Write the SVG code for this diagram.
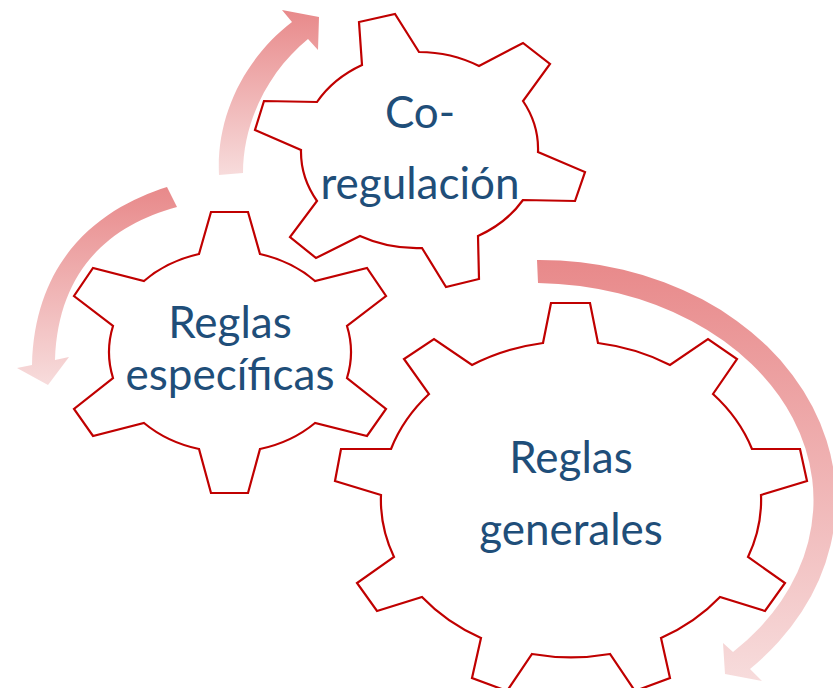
<svg xmlns="http://www.w3.org/2000/svg" width="833" height="688" viewBox="0 0 833 688">
<defs>
<linearGradient id="fade" x1="0" y1="0" x2="0" y2="1">
<stop offset="0" stop-color="#E8898A"/>
<stop offset="1" stop-color="#F7DCDC"/>
</linearGradient>
<style>
.gear{fill:#FFFFFF;stroke:#C00000;stroke-width:2.2;stroke-linejoin:miter}
.lbl{font-family:Lato,"Liberation Sans",sans-serif;font-size:44px;fill:#1F4E79;text-anchor:middle}
.arrow{fill:url(#fade);stroke:none}
</style>
</defs>
<rect width="833" height="688" fill="#FFFFFF"/>
<g id="connectors">
<path id="arrow-up" class="arrow" d="M219,175 C216,115 245,58 292,22 L282,10 L319,17 L318,50 L308,39 C270,70 243,120 243,173 Z"/>
<path id="arrow-left" class="arrow" d="M167,187 C110,205 35,250 32,365 L17,368 L48,385 L69,357 L55,360 C58,270 110,225 177,207 Z"/>
<path id="arrow-right" class="arrow" d="M537,260 A296 240 0 0 1 750,669 L762,681 L725,674 L723,643 L733,652 A281 217 0 0 0 538,283 Z"/>
</g>
<g id="gear-coregulacion">
<path class="gear" d="M362,65 L359,22 L395,14 L419,52 A118 98 0 0 1 479,66 L523,43 L550,64 L523,101 A118 98 0 0 1 538,152 L585,172 L575,201 L523,200 A118 98 0 0 1 478,236 L479,279 L446,287 L422,248 A118 98 0 0 1 360,236 L316,258 L290,237 L317,201 A118 98 0 0 1 301,150 L255,130 L264,101 L317,102 A118 98 0 0 1 362,65 Z"/>
<text class="lbl" x="420" y="128">Co-</text>
<text class="lbl" x="420" y="199">regulación</text>
</g>
<g id="gear-especificas">
<path class="gear" d="M199,254 L211,212 L248,212 L260,254 A120 102 0 0 1 315,281 L367,268 L386,296 L347,326 A120 102 0 0 1 347,378 L386,409 L367,436 L315,423 A120 102 0 0 1 260,449 L248,493 L211,493 L199,449 A120 102 0 0 1 144,423 L93,436 L74,409 L113,378 A120 102 0 0 1 113,326 L74,296 L93,268 L144,281 A120 102 0 0 1 199,254 Z"/>
<text class="lbl" x="230" y="338">Reglas</text>
<text class="lbl" x="230" y="390">específicas</text>
</g>
<g id="gear-generales">
<path class="gear" d="M543,343 L551,303 L590,303 L598,343 A190 156 0 0 1 670,365 L708,339 L737,359 L713,394 A190 156 0 0 1 752,449 L800,449 L807,481 L761,495 A190 156 0 0 1 748,557 L785,583 L765,611 L720,597 A190 156 0 0 1 661,638 L670,678 L635,691 L610,654 A190 156 0 0 1 532,654 L507,691 L472,678 L481,638 A190 156 0 0 1 422,597 L377,611 L357,583 L394,557 A190 156 0 0 1 381,495 L335,481 L341,449 L391,449 A190 156 0 0 1 429,394 L404,359 L434,339 L472,365 A190 156 0 0 1 543,343 Z"/>
<text class="lbl" x="571" y="473">Reglas</text>
<text class="lbl" x="571" y="545">generales</text>
</g>
</svg>
